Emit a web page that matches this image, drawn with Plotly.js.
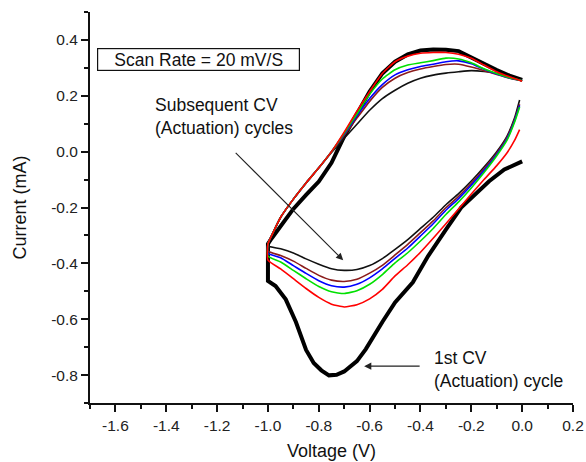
<!DOCTYPE html>
<html>
<head>
<meta charset="utf-8">
<script src="https://cdn.plot.ly/plotly-3.0.1.min.js"></script>
<style>html,body{margin:0;padding:0;background:#fff;}#chart{width:586px;height:462px;}</style>
</head>
<body>
<div id="chart"></div>
<script>
// ---- Data (Voltage in V, Current in mA) ----
// 1st CV cycle (thick black): cathodic branch 0 -> -1.0 V, then anodic branch -1.0 -> 0 V
var cycle1V = [0.0, -0.07, -0.13, -0.18, -0.24, -0.30, -0.37, -0.43, -0.50, -0.55, -0.615, -0.65, -0.70, -0.73, -0.76, -0.79, -0.82, -0.85, -0.89, -0.93, -0.97, -1.0,
               -1.0, -0.985, -0.965, -0.94, -0.90, -0.85, -0.80, -0.75, -0.70, -0.65, -0.60, -0.55, -0.50, -0.45, -0.40, -0.35, -0.30, -0.25, -0.20, -0.15, -0.10, -0.05, 0.0];
var cycle1I = [-0.035, -0.064, -0.106, -0.148, -0.200, -0.279, -0.374, -0.468, -0.540, -0.610, -0.707, -0.750, -0.787, -0.799, -0.801, -0.783, -0.757, -0.710, -0.610, -0.529, -0.481, -0.463,
               -0.330, -0.310, -0.285, -0.255, -0.205, -0.155, -0.107, -0.040, 0.055, 0.135, 0.215, 0.280, 0.322, 0.348, 0.362, 0.366, 0.365, 0.360, 0.336, 0.315, 0.292, 0.272, 0.257];

// Subsequent cycles (thin lines)
var lowerV = [-0.01, -0.03, -0.06, -0.10, -0.15, -0.20, -0.25, -0.30, -0.35, -0.40, -0.45, -0.50, -0.55, -0.60, -0.65, -0.70, -0.75, -0.80, -0.85, -0.90, -0.95, -1.0];
var upperV = [-1.0, -0.98, -0.95, -0.90, -0.85, -0.80, -0.75, -0.70, -0.65, -0.60, -0.55, -0.50, -0.45, -0.40, -0.35, -0.30, -0.25, -0.20, -0.15, -0.10, -0.05, 0.0];

var redLowerI   = [0.079, 0.040, -0.005, -0.050, -0.100, -0.152, -0.205, -0.258, -0.310, -0.360, -0.405, -0.445, -0.493, -0.527, -0.548, -0.556, -0.546, -0.522, -0.490, -0.455, -0.420, -0.388];
var redUpperI   = [-0.330, -0.290, -0.235, -0.170, -0.112, -0.058, 0.000, 0.070, 0.145, 0.215, 0.280, 0.322, 0.342, 0.352, 0.355, 0.355, 0.349, 0.334, 0.310, 0.286, 0.268, 0.252];

var greenLowerI = [0.160, 0.105, 0.040, -0.015, -0.075, -0.130, -0.180, -0.225, -0.275, -0.320, -0.362, -0.398, -0.440, -0.475, -0.498, -0.508, -0.502, -0.483, -0.455, -0.425, -0.395, -0.374];
var greenUpperI = [-0.330, -0.290, -0.235, -0.170, -0.112, -0.058, 0.000, 0.066, 0.135, 0.205, 0.260, 0.293, 0.310, 0.318, 0.326, 0.335, 0.332, 0.318, 0.297, 0.280, 0.265, 0.254];

var blueLowerI  = [0.165, 0.110, 0.045, -0.010, -0.068, -0.120, -0.168, -0.210, -0.258, -0.302, -0.345, -0.382, -0.420, -0.452, -0.475, -0.485, -0.480, -0.462, -0.436, -0.408, -0.380, -0.364];
var blueUpperI  = [-0.330, -0.290, -0.235, -0.170, -0.112, -0.058, 0.000, 0.062, 0.128, 0.190, 0.240, 0.275, 0.293, 0.305, 0.313, 0.322, 0.325, 0.315, 0.295, 0.278, 0.264, 0.254];

var brownLowerI = [0.170, 0.115, 0.050, -0.006, -0.062, -0.113, -0.160, -0.201, -0.248, -0.290, -0.332, -0.370, -0.407, -0.435, -0.457, -0.465, -0.460, -0.443, -0.418, -0.392, -0.372, -0.356];
var brownUpperI = [-0.330, -0.290, -0.235, -0.170, -0.112, -0.058, 0.000, 0.058, 0.120, 0.180, 0.230, 0.263, 0.283, 0.296, 0.305, 0.312, 0.313, 0.303, 0.290, 0.276, 0.263, 0.254];

var blackLowerI = [0.185, 0.120, 0.055, 0.000, -0.055, -0.105, -0.150, -0.190, -0.235, -0.275, -0.315, -0.350, -0.383, -0.408, -0.422, -0.425, -0.419, -0.403, -0.384, -0.363, -0.348, -0.338];
var blackUpperI = [-0.330, -0.290, -0.235, -0.170, -0.112, -0.058, -0.003, 0.048, 0.098, 0.148, 0.190, 0.220, 0.245, 0.263, 0.274, 0.281, 0.286, 0.290, 0.287, 0.280, 0.268, 0.255];

var xTickVals = [-1.6, -1.4, -1.2, -1.0, -0.8, -0.6, -0.4, -0.2, 0.0, 0.2];
var xTickText = ["-1.6", "-1.4", "-1.2", "-1.0", "-0.8", "-0.6", "-0.4", "-0.2", "0.0", "0.2"];
var yTickVals = [-0.8, -0.6, -0.4, -0.2, 0.0, 0.2, 0.4];
var yTickText = ["-0.8", "-0.6", "-0.4", "-0.2", "0.0", "0.2", "0.4"];

var scanRateText = "Scan Rate = 20 mV/S";
var subsequentText = "Subsequent CV<br>(Actuation) cycles";
var firstText = "1st CV<br>(Actuation) cycle";

// ---- Build traces ----
function loop(lowI, upI) {
  return { x: lowerV.concat(upperV), y: lowI.concat(upI) };
}
function trace(d, color, width) {
  return { type: 'scatter', mode: 'lines', x: d.x, y: d.y, line: { color: color, width: width, shape: 'spline', smoothing: 0.5 }, hoverinfo: 'skip' };
}
var data = [
  { type: 'scatter', mode: 'lines', x: cycle1V, y: cycle1I, line: { color: '#000000', width: 4 }, hoverinfo: 'skip' },
  trace(loop(blackLowerI, blackUpperI), '#111111', 1.6),
  trace(loop(brownLowerI, brownUpperI), '#8b1c1c', 1.6),
  trace(loop(blueLowerI, blueUpperI), '#0000ff', 1.6),
  trace(loop(greenLowerI, greenUpperI), '#00e000', 1.6),
  trace(loop(redLowerI, redUpperI), '#ff0000', 1.6)
];

var fontFam = '"Liberation Sans", Arial, sans-serif';
var layout = {
  width: 586, height: 462,
  margin: { l: 90, r: 13, t: 12, b: 59 },
  paper_bgcolor: '#ffffff', plot_bgcolor: '#ffffff',
  showlegend: false,
  font: { family: fontFam, color: '#111111', size: 15.5 },
  xaxis: {
    range: [-1.7, 0.2], tickvals: xTickVals, ticktext: xTickText,
    ticks: 'outside', ticklen: 7, tickwidth: 2, tickcolor: '#111',
    minor: { dtick: 0.1, tick0: 0, ticks: 'outside', ticklen: 4, tickwidth: 2, tickcolor: '#111' },
    showline: true, linewidth: 2, linecolor: '#111', showgrid: false, zeroline: false,
    tickfont: { size: 15.5, family: fontFam, color: '#222' },
    title: { text: 'Voltage (V)', font: { size: 18, family: fontFam, color: '#111' }, standoff: 12 }
  },
  yaxis: {
    range: [-0.9, 0.5], tickvals: yTickVals, ticktext: yTickText,
    ticks: 'outside', ticklen: 7, tickwidth: 2, tickcolor: '#111',
    minor: { dtick: 0.1, tick0: 0, ticks: 'outside', ticklen: 4, tickwidth: 2, tickcolor: '#111' },
    showline: true, linewidth: 2, linecolor: '#111', showgrid: false, zeroline: false,
    tickfont: { size: 15.5, family: fontFam, color: '#222' },
    title: { text: 'Current (mA)', font: { size: 18, family: fontFam, color: '#111' }, standoff: 20 }
  },
  annotations: [
    { x: -1.2725, y: 0.330, xref: 'x', yref: 'y', text: scanRateText, showarrow: false,
      font: { size: 17.5, family: fontFam, color: '#111' }, bordercolor: '#111', borderwidth: 1.2, borderpad: 1,
      width: 199, height: 19, xanchor: 'center', yanchor: 'middle' },
    { x: -1.454, y: 0.1275, xref: 'x', yref: 'y', text: subsequentText, showarrow: false, align: 'left',
      xanchor: 'left', yanchor: 'middle', font: { size: 17.5, family: fontFam, color: '#111' } },
    { x: -0.3537, y: -0.7786, xref: 'x', yref: 'y', text: firstText, showarrow: false, align: 'left',
      xanchor: 'left', yanchor: 'middle', font: { size: 17.5, family: fontFam, color: '#111' } },
    { x: -0.704, y: -0.389, xref: 'x', yref: 'y', text: '', showarrow: true, ax: -109, ay: -109,
      arrowhead: 2, arrowsize: 1.3, arrowwidth: 1.1, arrowcolor: '#222' },
    { x: -0.6216, y: -0.768, xref: 'x', yref: 'y', text: '', showarrow: true, ax: 57, ay: 0,
      arrowhead: 2, arrowsize: 1.3, arrowwidth: 1.1, arrowcolor: '#222' }
  ]
};
Plotly.newPlot('chart', data, layout, { staticPlot: true, displayModeBar: false });
</script>
</body>
</html>
